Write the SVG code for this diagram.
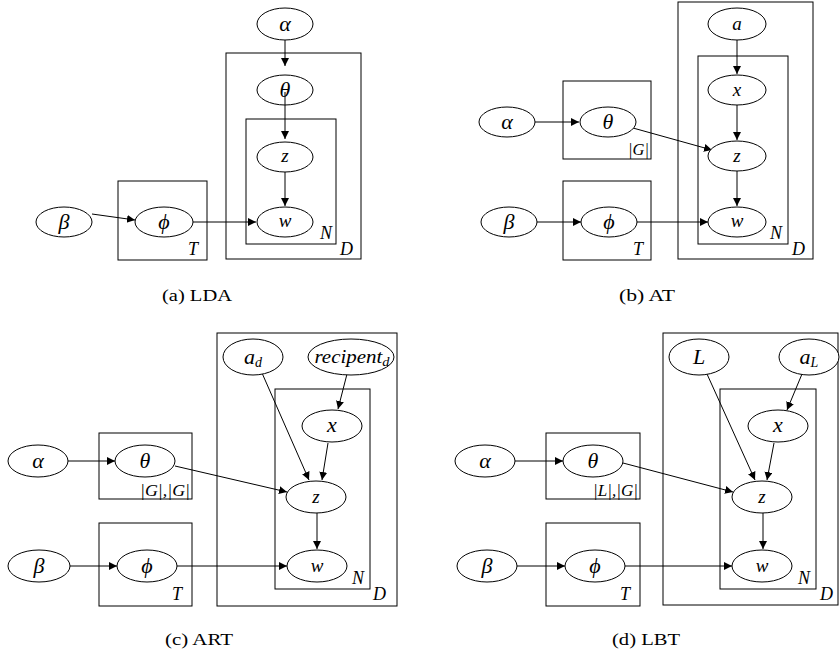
<svg xmlns="http://www.w3.org/2000/svg" width="840" height="655" viewBox="0 0 840 655">
<style>
.n ellipse{fill:#fff;stroke:#000;stroke-width:1}
.p{fill:none;stroke:#000;stroke-width:1}
.l{font-style:italic;text-anchor:middle;fill:#000}
.b{font-style:italic;fill:#000}
.m{font-style:italic;fill:#000;text-anchor:end}
.c{text-anchor:middle;fill:#000}
#edges line{stroke:#000;stroke-width:1;marker-end:url(#ah)}
</style>
<defs>
<marker id="ah" markerUnits="userSpaceOnUse" markerWidth="9" markerHeight="9" refX="8" refY="4" orient="auto">
<path d="M0,0 L8,4 L0,8 z" fill="#000"/>
</marker>
</defs>
<rect width="840" height="655" fill="#fff"/>
<g font-family="Liberation Serif, Times New Roman, serif">

<g id="plates">
<rect class="p" x="226" y="53" width="135" height="206"/>
<rect class="p" x="246" y="119" width="90" height="125"/>
<rect class="p" x="118" y="181" width="89" height="79"/>
<rect class="p" x="678" y="2" width="135" height="257"/>
<rect class="p" x="698" y="56" width="90" height="188"/>
<rect class="p" x="563" y="81" width="88" height="78"/>
<rect class="p" x="563" y="181" width="88" height="79"/>
<rect class="p" x="217" y="333" width="180" height="273"/>
<rect class="p" x="275" y="389" width="95" height="200"/>
<rect class="p" x="99" y="433" width="93" height="66"/>
<rect class="p" x="99" y="523" width="93" height="83"/>
<rect class="p" x="663" y="333" width="175" height="272"/>
<rect class="p" x="720" y="389" width="96" height="200"/>
<rect class="p" x="546" y="433" width="94" height="66"/>
<rect class="p" x="546" y="523" width="94" height="83"/>
</g>

<g id="plate-labels" font-size="18" font-style="italic">
<text class="b" x="188" y="255">T</text>
<text class="b" x="320" y="239">N</text>
<text class="b" x="340" y="255">D</text>
<text class="b" x="633" y="255">T</text>
<text class="b" x="770" y="239">N</text>
<text class="b" x="792" y="255">D</text>
<text class="m" x="649" y="155" font-size="17" textLength="21" lengthAdjust="spacingAndGlyphs">|G|</text>
<text class="m" x="190" y="496" font-size="17" textLength="50" lengthAdjust="spacingAndGlyphs">|G|,|G|</text>
<text class="b" x="172" y="600">T</text>
<text class="b" x="352" y="584">N</text>
<text class="b" x="373" y="600">D</text>
<text class="m" x="638" y="496" font-size="17" textLength="45" lengthAdjust="spacingAndGlyphs">|L|,|G|</text>
<text class="b" x="620" y="600">T</text>
<text class="b" x="798" y="584">N</text>
<text class="b" x="820" y="600">D</text>
</g>

<g id="edges">
<line x1="285" y1="40" x2="285" y2="66"/>
<line x1="285" y1="92" x2="285" y2="139"/>
<line x1="285" y1="172" x2="285" y2="206"/>
<line x1="193" y1="222" x2="256" y2="222"/>
<line x1="92" y1="214" x2="135" y2="220"/>
<line x1="737" y1="40" x2="737" y2="74"/>
<line x1="737" y1="105" x2="737" y2="140"/>
<line x1="737" y1="171" x2="737" y2="206"/>
<line x1="535" y1="122" x2="579" y2="122"/>
<line x1="537" y1="222" x2="581" y2="222"/>
<line x1="637" y1="222" x2="708" y2="222"/>
<line x1="633" y1="128" x2="712" y2="150"/>
<line x1="68" y1="461" x2="115" y2="461"/>
<line x1="70" y1="566" x2="117" y2="566"/>
<line x1="175" y1="466" x2="287" y2="492"/>
<line x1="262" y1="373" x2="309" y2="480"/>
<line x1="347" y1="374" x2="338" y2="409"/>
<line x1="328" y1="443" x2="322" y2="480"/>
<line x1="317" y1="513" x2="317" y2="549"/>
<line x1="177" y1="566" x2="287" y2="566"/>
<line x1="515" y1="461" x2="563" y2="461"/>
<line x1="517" y1="566" x2="565" y2="566"/>
<line x1="623" y1="463" x2="733" y2="492"/>
<line x1="707" y1="374" x2="755" y2="480"/>
<line x1="802" y1="374" x2="787" y2="410"/>
<line x1="774" y1="443" x2="767" y2="480"/>
<line x1="763" y1="513" x2="763" y2="549"/>
<line x1="625" y1="566" x2="732" y2="566"/>
</g>

<g id="nodes" font-style="italic">
<g id="a-alpha" class="n"><ellipse cx="285" cy="24" rx="28" ry="16"/><text class="l" font-size="22" x="285" y="31">α</text></g>
<g id="a-theta" class="n"><ellipse cx="285" cy="90" rx="28" ry="15" fill-opacity="0"/><text class="l" font-size="22" x="285" y="97">θ</text></g>
<g id="a-z" class="n"><ellipse cx="285" cy="157" rx="28" ry="15"/><text class="l" font-size="19" x="285" y="162">z</text></g>
<g id="a-w" class="n"><ellipse cx="285" cy="222" rx="28" ry="15"/><text class="l" font-size="19" x="285" y="227">w</text></g>
<g id="a-phi" class="n"><ellipse cx="164" cy="222" rx="29" ry="15"/><text class="l" font-size="22" x="164" y="229">ϕ</text></g>
<g id="a-beta" class="n"><ellipse cx="64" cy="222" rx="28" ry="15"/><text class="l" font-size="22" x="64" y="229">β</text></g>

<g id="b-a" class="n"><ellipse cx="737" cy="24" rx="29" ry="16"/><text class="l" font-size="19" x="737" y="30">a</text></g>
<g id="b-x" class="n"><ellipse cx="737" cy="90" rx="29" ry="15"/><text class="l" font-size="19" x="737" y="96">x</text></g>
<g id="b-z" class="n"><ellipse cx="737" cy="156" rx="29" ry="15"/><text class="l" font-size="19" x="737" y="162">z</text></g>
<g id="b-w" class="n"><ellipse cx="737" cy="222" rx="29" ry="15"/><text class="l" font-size="19" x="737" y="227">w</text></g>
<g id="b-theta" class="n"><ellipse cx="608" cy="122" rx="28" ry="15"/><text class="l" font-size="22" x="608" y="129">θ</text></g>
<g id="b-alpha" class="n"><ellipse cx="507" cy="122" rx="28" ry="15"/><text class="l" font-size="22" x="507" y="129">α</text></g>
<g id="b-phi" class="n"><ellipse cx="609" cy="222" rx="28" ry="15"/><text class="l" font-size="22" x="609" y="229">ϕ</text></g>
<g id="b-beta" class="n"><ellipse cx="509" cy="222" rx="28" ry="15"/><text class="l" font-size="22" x="509" y="229">β</text></g>

<g id="c-ad" class="n"><ellipse cx="253" cy="357" rx="30" ry="18"/><text class="l" font-size="22" x="253" y="364">a<tspan font-size="14" dy="3">d</tspan></text></g>
<g id="c-recipient" class="n"><ellipse cx="351" cy="357" rx="43" ry="18"/><text class="l" font-size="19" x="352" y="363" textLength="75" lengthAdjust="spacingAndGlyphs">recipent<tspan font-size="13" dy="3">d</tspan></text></g>
<g id="c-x" class="n"><ellipse cx="332" cy="426" rx="30" ry="16"/><text class="l" font-size="22" x="332" y="432">x</text></g>
<g id="c-z" class="n"><ellipse cx="316" cy="497" rx="30" ry="16"/><text class="l" font-size="19" x="316" y="503">z</text></g>
<g id="c-w" class="n"><ellipse cx="317" cy="566" rx="30" ry="16"/><text class="l" font-size="19" x="317" y="572">w</text></g>
<g id="c-theta" class="n"><ellipse cx="145" cy="461" rx="30" ry="16"/><text class="l" font-size="22" x="145" y="468">θ</text></g>
<g id="c-alpha" class="n"><ellipse cx="38" cy="461" rx="30" ry="16"/><text class="l" font-size="22" x="38" y="468">α</text></g>
<g id="c-phi" class="n"><ellipse cx="147" cy="566" rx="30" ry="16"/><text class="l" font-size="22" x="147" y="573">ϕ</text></g>
<g id="c-beta" class="n"><ellipse cx="39" cy="566" rx="31" ry="16"/><text class="l" font-size="22" x="39" y="573">β</text></g>

<g id="d-L" class="n"><ellipse cx="699" cy="357" rx="30" ry="18"/><text class="l" font-size="22" x="699" y="364">L</text></g>
<g id="d-aL" class="n"><ellipse cx="809" cy="357" rx="30" ry="18"/><text class="l" font-size="22" x="809" y="364">a<tspan font-size="14" dy="3">L</tspan></text></g>
<g id="d-x" class="n"><ellipse cx="778" cy="426" rx="30" ry="16"/><text class="l" font-size="22" x="778" y="432">x</text></g>
<g id="d-z" class="n"><ellipse cx="762" cy="497" rx="30" ry="16"/><text class="l" font-size="19" x="762" y="503">z</text></g>
<g id="d-w" class="n"><ellipse cx="762" cy="566" rx="30" ry="16"/><text class="l" font-size="19" x="762" y="572">w</text></g>
<g id="d-theta" class="n"><ellipse cx="593" cy="461" rx="30" ry="16"/><text class="l" font-size="22" x="593" y="468">θ</text></g>
<g id="d-alpha" class="n"><ellipse cx="485" cy="461" rx="30" ry="16"/><text class="l" font-size="22" x="485" y="468">α</text></g>
<g id="d-phi" class="n"><ellipse cx="595" cy="566" rx="30" ry="16"/><text class="l" font-size="22" x="595" y="573">ϕ</text></g>
<g id="d-beta" class="n"><ellipse cx="487" cy="566" rx="30" ry="16"/><text class="l" font-size="22" x="487" y="573">β</text></g>
</g>

<g id="captions" font-size="17">
<text class="c" x="197" y="301" textLength="70" lengthAdjust="spacingAndGlyphs">(a) LDA</text>
<text class="c" x="647" y="301" textLength="56" lengthAdjust="spacingAndGlyphs">(b) AT</text>
<text class="c" x="199" y="645" textLength="68" lengthAdjust="spacingAndGlyphs">(c) ART</text>
<text class="c" x="646" y="645" textLength="68" lengthAdjust="spacingAndGlyphs">(d) LBT</text>
</g>
</g>
</svg>
